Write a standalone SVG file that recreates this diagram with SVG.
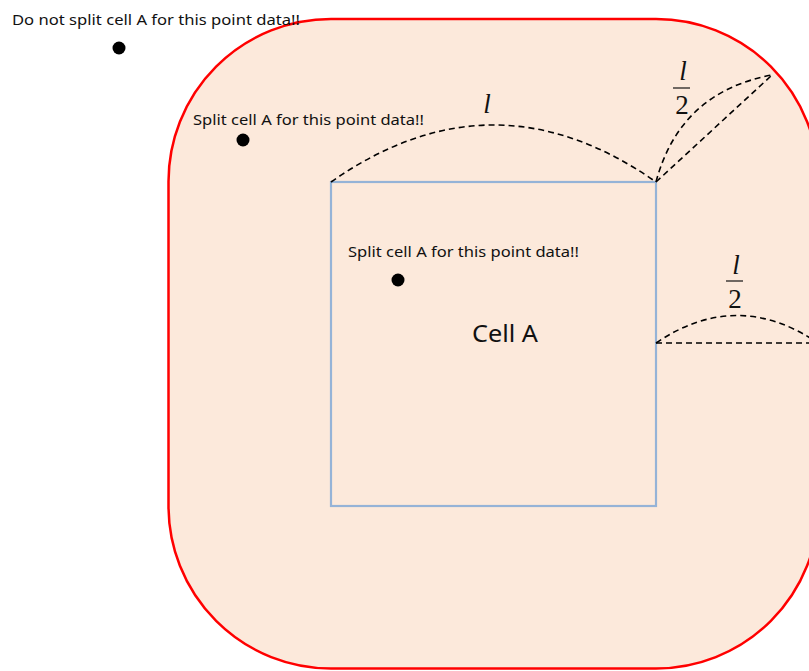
<svg xmlns="http://www.w3.org/2000/svg" width="809" height="671" viewBox="0 0 809 671">
<style>
.lbl{font-family:"Noto Sans","Liberation Sans",sans-serif;font-size:15px;fill:#111}
.math{font-family:"Liberation Serif","DejaVu Serif",serif;font-size:27px;fill:#111}
.dash{fill:none;stroke:#000;stroke-width:1.6;stroke-dasharray:6 4}
.pt{fill:#000}
</style>
<g id="region">
<rect x="168.5" y="19" width="650" height="649.5" rx="162.5" ry="162.5" fill="#FCE9DB" stroke="#FF0000" stroke-width="2.5"/>
</g>
<g id="cellA">
<rect x="331" y="182" width="325" height="324" fill="none" stroke="#95B3D7" stroke-width="2.2"/>
<text x="505" y="342" text-anchor="middle" textLength="66" lengthAdjust="spacingAndGlyphs" style="font-family:'Noto Sans','Liberation Sans',sans-serif;font-size:23px;fill:#111">Cell A</text>
</g>
<g id="connectors">
<path class="dash" d="M331,182 Q493.5,68 656,182"/>
<path class="dash" d="M656,182 L772,75"/>
<path class="dash" d="M656,182 Q680,92 772,75"/>
<path class="dash" d="M656,343 L809,343"/>
<path class="dash" d="M656,343 Q737,288 818,343"/>
</g>
<g id="label-l">
<text class="math" x="487" y="113" text-anchor="middle" font-style="italic">l</text>
</g>
<g id="label-half1">
<text class="math" x="683" y="80" text-anchor="middle" font-style="italic">l</text>
<line x1="673" y1="88" x2="690" y2="88" stroke="#111" stroke-width="1.2"/>
<text class="math" x="682" y="114" text-anchor="middle">2</text>
</g>
<g id="label-half2">
<text class="math" x="736" y="274" text-anchor="middle" font-style="italic">l</text>
<line x1="726" y1="281" x2="743" y2="281" stroke="#111" stroke-width="1.2"/>
<text class="math" x="735" y="308" text-anchor="middle">2</text>
</g>
<g id="p1">
<text class="lbl" x="12" y="25" textLength="288" lengthAdjust="spacingAndGlyphs">Do not split cell A for this point data!!</text>
<circle class="pt" cx="119" cy="48" r="6.5"/>
</g>
<g id="p2">
<text class="lbl" x="193" y="125" textLength="231" lengthAdjust="spacingAndGlyphs">Split cell A for this point data!!</text>
<circle class="pt" cx="243" cy="140" r="6.5"/>
</g>
<g id="p3">
<text class="lbl" x="348" y="257" textLength="231" lengthAdjust="spacingAndGlyphs">Split cell A for this point data!!</text>
<circle class="pt" cx="398" cy="280" r="6.5"/>
</g>
</svg>
